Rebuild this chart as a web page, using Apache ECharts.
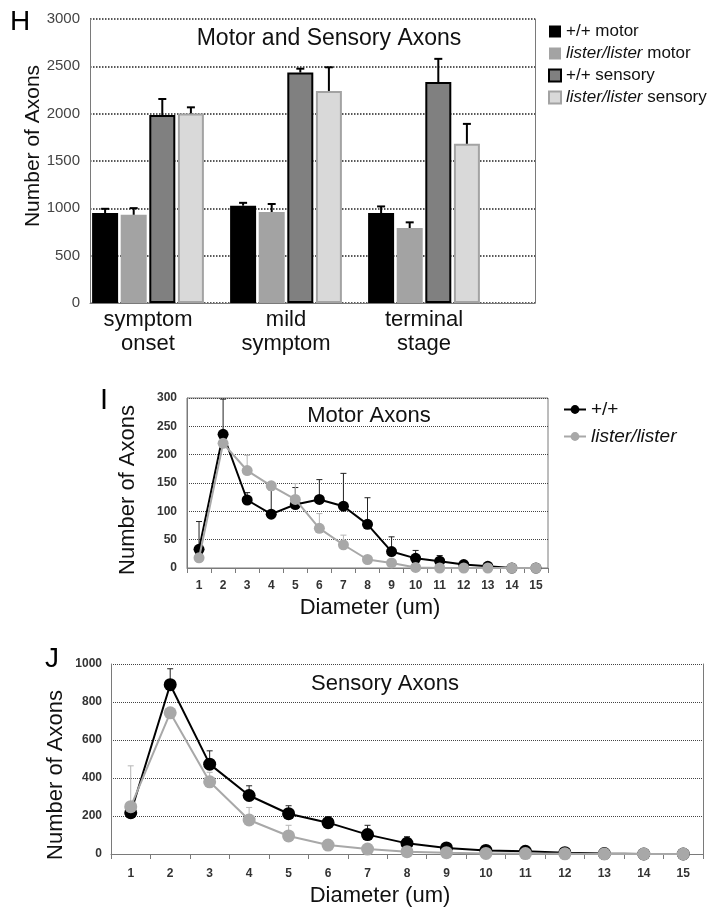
<!DOCTYPE html>
<html>
<head>
<meta charset="utf-8">
<script src="https://cdn.jsdelivr.net/npm/echarts@6/dist/echarts.min.js"></script>
<style>
  html, body { margin: 0; padding: 0; background: #fff; }
  #chart { width: 718px; height: 909px; }
</style>
</head>
<body>
<div id="chart"></div>
<script>
// Panel H: axon counts per stage (bar tops and upward SEM)
const stageLabels = ['symptom\nonset', 'mild\nsymptom', 'terminal\nstage'];
const wtMotor = [950, 1028, 950];
const wtMotorSem = [45, 30, 70];
const lsMotor = [932, 961, 792];
const lsMotorSem = [70, 85, 60];
const wtSensory = [1985, 2435, 2334];
const wtSensorySem = [170, 40, 245];
const lsSensory = [2002, 2240, 1682];
const lsSensorySem = [65, 250, 210];

// Panels I and J: distribution by diameter
const diameters = ['1', '2', '3', '4', '5', '6', '7', '8', '9', '10', '11', '12', '13', '14', '15'];
const motorWt = [33, 236, 120, 95, 112, 121, 109, 77, 29, 17, 12, 6, 3, 0, 0];
const motorWtSem = [49, 62, 13, 43, 30, 35, 58, 47, 26, 14, 10, 0, 0, 0, 0];
const motorLs = [18, 220, 172, 145, 121, 70, 41, 15, 9, 1, 0, 0, 0, 0, 0];
const motorLsSem = [0, 0, 27, 0, 28, 26, 17, 0, 0, 0, 0, 0, 0, 0, 0];
const sensWt = [217, 891, 473, 308, 212, 165, 102, 56, 32, 19, 14, 7, 2, 0, 0];
const sensWtSem = [0, 84, 70, 51, 42, 31, 49, 35, 0, 0, 0, 0, 0, 0, 0];
const sensLs = [249, 743, 380, 179, 95, 47, 26, 12, 7, 3, 2, 1, 0, 0, 0];
const sensLsSem = [215, 0, 50, 66, 56, 0, 0, 0, 0, 0, 0, 0, 0, 0, 0];

const FONT = '"Liberation Sans", Arial, sans-serif';
const BAR_W = 26;
const BAR_GAP = 2.6;

const chart = echarts.init(document.getElementById('chart'));

// error bar going up from value to value+sem
const errData = (vals, sems) => vals.map((v, i) => [i, v, v + sems[i], sems[i]]);
const errRender = (offset, color, lw, cap) => (params, api) => {
  if (!api.value(3)) return null;
  const p0 = api.coord([api.value(0), api.value(1)]);
  const p1 = api.coord([api.value(0), api.value(2)]);
  const x = p0[0] + offset;
  return {
    type: 'group',
    children: [
      { type: 'line', shape: { x1: x, y1: p0[1], x2: x, y2: p1[1] }, style: { stroke: color, lineWidth: lw } },
      { type: 'line', shape: { x1: x - cap, y1: p1[1], x2: x + cap, y2: p1[1] }, style: { stroke: color, lineWidth: lw } },
    ],
  };
};

const barSeries = (name, data, style) => ({
  name, type: 'bar', xAxisIndex: 0, yAxisIndex: 0,
  data, barWidth: BAR_W, barGap: (BAR_GAP / BAR_W * 100) + '%',
  itemStyle: style, z: 3,
});
const hErr = (idx, vals, sems) => ({
  type: 'custom', xAxisIndex: 0, yAxisIndex: 0, z: 4,
  renderItem: errRender((idx - 1.5) * (BAR_W + BAR_GAP), '#000', 2, 4),
  data: errData(vals, sems),
});

const lineSeries = (name, data, color, xi, size) => ({
  name, type: 'line', xAxisIndex: xi, yAxisIndex: xi, data,
  symbol: 'circle', symbolSize: size,
  lineStyle: { color, width: 2 }, itemStyle: { color },
  z: color === '#000' ? 3 : 4,
});
const lineErr = (vals, sems, color, xi) => ({
  type: 'custom', xAxisIndex: xi, yAxisIndex: xi, z: 2,
  renderItem: errRender(0, color, 1, 3),
  data: errData(vals, sems),
});

const plain = (v) => String(v);
const dotted = { show: true, lineStyle: { type: 'dotted', color: '#444', width: 1 } };
const frameLine = { show: true, lineStyle: { color: '#7a7a7a', width: 1 } };
const smallLabel = { fontFamily: FONT, fontWeight: 'bold', fontSize: 12, color: '#333', formatter: plain };

const option = {
  animation: false,
  backgroundColor: '#fff',
  textStyle: { fontFamily: FONT },
  grid: [
    { left: 79, top: 19, width: 414, height: 284 },   // H bars
    { left: 90, top: 19, width: 445, height: 284 },   // H frame
    { left: 187, top: 398, width: 361, height: 170, show: true, borderColor: '#7a7a7a', borderWidth: 1 }, // I
    { left: 111, top: 664, width: 592, height: 190 }, // J
  ],
  xAxis: [
    {
      gridIndex: 0, type: 'category', data: stageLabels,
      axisLine: { show: false }, axisTick: { show: false },
      axisLabel: { fontFamily: FONT, fontSize: 22, color: '#111', lineHeight: 24, margin: 5 },
    },
    {
      gridIndex: 1, type: 'value', min: 0, max: 1,
      axisLine: frameLine, axisTick: { show: false }, axisLabel: { show: false }, splitLine: { show: false },
    },
    {
      gridIndex: 2, type: 'category', data: diameters,
      axisLine: frameLine, axisTick: { show: true, length: 5, lineStyle: { color: '#7a7a7a' } },
      axisLabel: Object.assign({}, smallLabel, { margin: 12 }),
    },
    {
      gridIndex: 3, type: 'category', data: diameters,
      axisLine: frameLine, axisTick: { show: true, length: 5, lineStyle: { color: '#7a7a7a' } },
      axisLabel: Object.assign({}, smallLabel, { margin: 14 }),
    },
  ],
  yAxis: [
    { gridIndex: 0, type: 'value', min: 0, max: 3000, show: false },
    {
      gridIndex: 1, type: 'value', min: 0, max: 3000, interval: 500,
      axisLine: frameLine, axisTick: { show: false },
      axisLabel: { fontFamily: FONT, fontSize: 15, color: '#444', margin: 10, formatter: plain },
      splitLine: { show: true, lineStyle: { type: 'dotted', color: '#222', width: 1.5 } },
    },
    {
      gridIndex: 2, type: 'value', min: 0, max: 300, interval: 50,
      axisLine: frameLine, axisTick: { show: false },
      axisLabel: Object.assign({}, smallLabel, { margin: 10 }), splitLine: dotted,
    },
    {
      gridIndex: 3, type: 'value', min: 0, max: 1000, interval: 200,
      axisLine: frameLine, axisTick: { show: false },
      axisLabel: Object.assign({}, smallLabel, { margin: 9 }), splitLine: dotted,
    },
    {
      gridIndex: 1, type: 'value', min: 0, max: 3000, position: 'right',
      axisLine: frameLine, axisTick: { show: false }, axisLabel: { show: false }, splitLine: { show: false },
    },
    {
      gridIndex: 3, type: 'value', min: 0, max: 1000, position: 'right',
      axisLine: frameLine, axisTick: { show: false }, axisLabel: { show: false }, splitLine: { show: false },
    },
  ],
  legend: [
    {
      data: ['+/+ motor', 'lister/lister motor', '+/+ sensory', 'lister/lister sensory'],
      orient: 'vertical', left: 543, top: 18, icon: 'rect', itemWidth: 12, itemHeight: 12, itemGap: 5,
      formatter: (name) => (name.startsWith('lister/lister') ? `{i|lister/lister}${name.slice(13)}` : name),
      textStyle: {
        fontFamily: FONT, fontSize: 17, color: '#111',
        rich: { i: { fontFamily: FONT, fontSize: 17, fontStyle: 'italic', color: '#111' } },
      },
    },
    {
      data: ['+/+', 'lister/lister'],
      orient: 'vertical', left: 558, top: 395, itemWidth: 22, itemHeight: 11, itemGap: 8,
      formatter: (name) => (name === 'lister/lister' ? `{i|${name}}` : name),
      textStyle: {
        fontFamily: FONT, fontSize: 19, color: '#111',
        rich: { i: { fontFamily: FONT, fontSize: 19, fontStyle: 'italic', color: '#111' } },
      },
    },
  ],
  series: [
    barSeries('+/+ motor', wtMotor, { color: '#000' }),
    barSeries('lister/lister motor', lsMotor, { color: '#a3a3a3' }),
    barSeries('+/+ sensory', wtSensory, { color: '#808080', borderColor: '#000', borderWidth: 2 }),
    barSeries('lister/lister sensory', lsSensory, { color: '#d9d9d9', borderColor: '#a3a3a3', borderWidth: 2 }),
    hErr(0, wtMotor, wtMotorSem),
    hErr(1, lsMotor, lsMotorSem),
    hErr(2, wtSensory, wtSensorySem),
    hErr(3, lsSensory, lsSensorySem),

    lineErr(motorWt, motorWtSem, '#222', 2),
    lineErr(motorLs, motorLsSem, '#b5b5b5', 2),
    lineSeries('+/+', motorWt, '#000', 2, 11),
    lineSeries('lister/lister', motorLs, '#a8a8a8', 2, 11),

    lineErr(sensWt, sensWtSem, '#222', 3),
    lineErr(sensLs, sensLsSem, '#b5b5b5', 3),
    lineSeries('+/+', sensWt, '#000', 3, 13),
    lineSeries('lister/lister', sensLs, '#a8a8a8', 3, 13),
  ],
  graphic: [
    { type: 'text', left: 10, top: 8, style: { text: 'H', font: `28px ${FONT}`, fill: '#000' } },
    { type: 'text', left: 100, top: 386, style: { text: 'I', font: `29px ${FONT}`, fill: '#000' } },
    { type: 'text', left: 45, top: 645, style: { text: 'J', font: `28px ${FONT}`, fill: '#000' } },
    { type: 'text', x: 329, y: 39, style: { text: 'Motor and Sensory Axons', font: `23px ${FONT}`, fill: '#111', align: 'center', verticalAlign: 'middle' } },
    { type: 'text', x: 369, y: 416, style: { text: 'Motor Axons', font: `22px ${FONT}`, fill: '#111', align: 'center', verticalAlign: 'middle' } },
    { type: 'text', x: 385, y: 684, style: { text: 'Sensory Axons', font: `22px ${FONT}`, fill: '#111', align: 'center', verticalAlign: 'middle' } },
    { type: 'text', x: 33, y: 146, rotation: Math.PI / 2, style: { text: 'Number of Axons', font: `21px ${FONT}`, fill: '#111', align: 'center', verticalAlign: 'middle' } },
    { type: 'text', x: 128, y: 490, rotation: Math.PI / 2, style: { text: 'Number of Axons', font: `22px ${FONT}`, fill: '#111', align: 'center', verticalAlign: 'middle' } },
    { type: 'text', x: 56, y: 775, rotation: Math.PI / 2, style: { text: 'Number of Axons', font: `22px ${FONT}`, fill: '#111', align: 'center', verticalAlign: 'middle' } },
    { type: 'text', x: 370, y: 608, style: { text: 'Diameter (um)', font: `22px ${FONT}`, fill: '#111', align: 'center', verticalAlign: 'middle' } },
    { type: 'text', x: 380, y: 896, style: { text: 'Diameter (um)', font: `22px ${FONT}`, fill: '#111', align: 'center', verticalAlign: 'middle' } },
  ],
};

chart.setOption(option);
</script>
</body>
</html>
